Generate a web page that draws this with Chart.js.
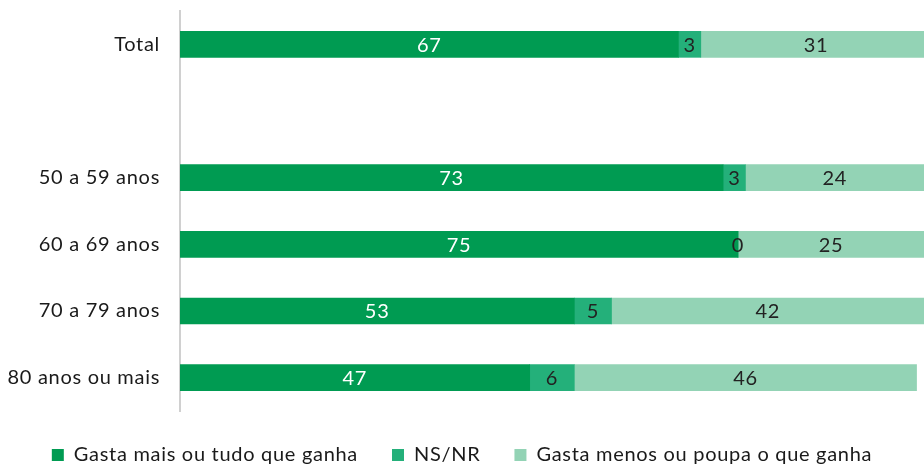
<!DOCTYPE html>
<html>
<head>
<meta charset="utf-8">
<script src="https://cdn.jsdelivr.net/npm/chart.js@4"></script>
<style>
  html, body { margin: 0; padding: 0; background: #fff; }
  #wrap { width: 924px; height: 468px; }
</style>
</head>
<body>
<div id="wrap"><canvas id="chart"></canvas></div>
<script>
const categories = ['Total', '', '50 a 59 anos', '60 a 69 anos', '70 a 79 anos', '80 anos ou mais'];
const gastaMais = [67, null, 73, 75, 53, 47];
const nsnr = [3, null, 3, 0, 5, 6];
const gastaMenos = [31, null, 24, 25, 42, 46];

const FONT = 'Lato, "Open Sans", sans-serif';

// slightly looser text tracking for every label on the canvas
const tracking = {
  id: 'tracking',
  beforeLayout(chart) { chart.ctx.letterSpacing = '0.7px'; },
  beforeDraw(chart) { chart.ctx.letterSpacing = '0.7px'; }
};

// write each segment's value in the middle of its bar piece
const barLabels = {
  id: 'barLabels',
  afterDatasetsDraw(chart) {
    const ctx = chart.ctx;
    ctx.save();
    ctx.font = '20px ' + FONT;
    ctx.textAlign = 'center';
    ctx.textBaseline = 'middle';
    chart.data.datasets.forEach((ds, i) => {
      const meta = chart.getDatasetMeta(i);
      meta.data.forEach((bar, j) => {
        const v = ds.data[j];
        if (v === null || v === undefined) return;
        const x = (bar.x + bar.base) / 2;
        ctx.fillStyle = i === 0 ? '#ffffff' : '#222222';
        ctx.fillText(String(v), x, bar.y + 1);
      });
    });
    ctx.restore();
  }
};

const ctx = document.getElementById('chart').getContext('2d');
const myChart = new Chart(ctx, {
  type: 'bar',
  data: {
    labels: categories,
    datasets: [
      { label: 'Gasta mais ou tudo que ganha', data: gastaMais, backgroundColor: '#009b52' },
      { label: 'NS/NR', data: nsnr, backgroundColor: '#24b07a' },
      { label: 'Gasta menos ou poupa o que ganha', data: gastaMenos, backgroundColor: '#93d3b5' }
    ]
  },
  options: {
    indexAxis: 'y',
    responsive: true,
    maintainAspectRatio: false,
    animation: false,
    layout: { autoPadding: false, padding: { top: 11, right: 0, bottom: 0, left: 0 } },
    datasets: { bar: { barThickness: 26, borderWidth: 0 } },
    plugins: {
      legend: {
        position: 'bottom',
        labels: {
          boxWidth: 12,
          boxHeight: 12,
          padding: 34,
          color: '#1a1a1a',
          font: { family: FONT, size: 20 }
        }
      },
      tooltip: { enabled: false }
    },
    scales: {
      x: {
        stacked: true,
        display: false,
        min: 0,
        max: 100
      },
      y: {
        stacked: true,
        afterFit(scale) {
          scale.width = 180;
          scale.paddingTop = 0;
          scale.paddingBottom = 0;
        },
        grid: { display: false, drawTicks: false },
        border: { display: true, color: '#d0d0d0', width: 2 },
        ticks: {
          padding: 20,
          color: '#1a1a1a',
          font: { family: FONT, size: 20 }
        }
      }
    }
  },
  plugins: [tracking, barLabels]
});

// legend strip is a fixed 57px band under the bars
const legendFit = myChart.legend.fit;
myChart.legend.fit = function () {
  legendFit.call(this);
  this.height = 57;
};
myChart.update();
</script>
</body>
</html>
